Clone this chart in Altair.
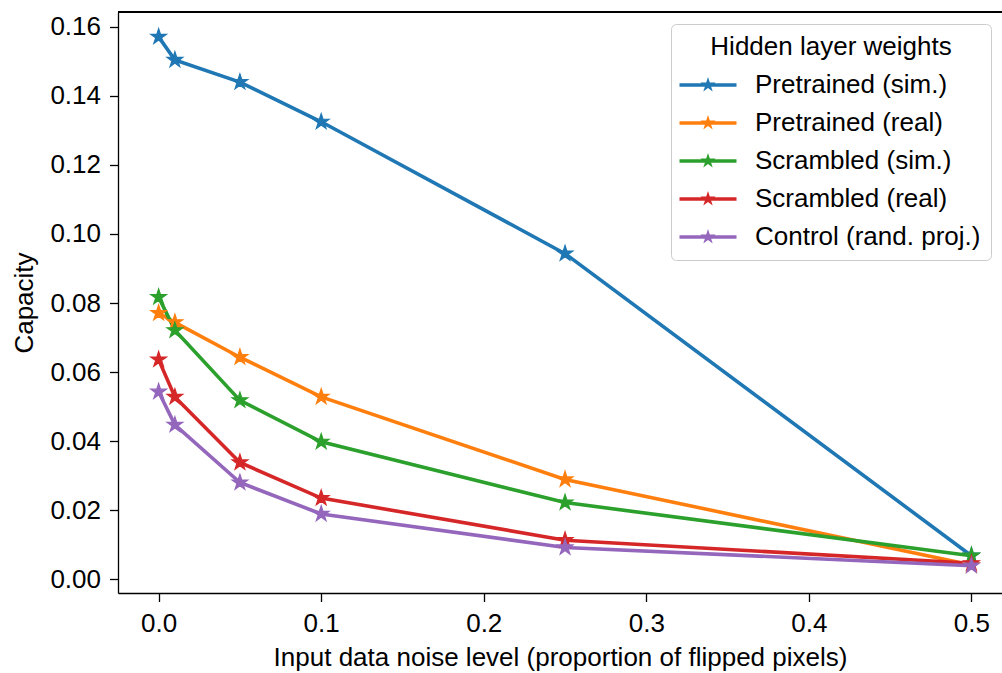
import altair as alt
import pandas as pd

noise = [0.0, 0.01, 0.05, 0.1, 0.25, 0.5]
series_names = [
    "Pretrained (sim.)",
    "Pretrained (real)",
    "Scrambled (sim.)",
    "Scrambled (real)",
    "Control (rand. proj.)",
]
pretrained_sim = [0.1571, 0.1504, 0.1440, 0.1325, 0.0943, 0.0068]
pretrained_real = [0.0771, 0.0744, 0.0643, 0.0528, 0.0289, 0.0041]
scrambled_sim = [0.0817, 0.0721, 0.0518, 0.0398, 0.0222, 0.0068]
scrambled_real = [0.0636, 0.0528, 0.0338, 0.0235, 0.0113, 0.0046]
control = [0.0543, 0.0447, 0.0280, 0.0189, 0.0092, 0.0039]
colors = ["#1f77b4", "#ff7f0e", "#2ca02c", "#d62728", "#9467bd"]

x_ticks = [0.0, 0.1, 0.2, 0.3, 0.4, 0.5]
y_ticks = [0.00, 0.02, 0.04, 0.06, 0.08, 0.10, 0.12, 0.14, 0.16]

rows = []
for name, vals in zip(series_names, [pretrained_sim, pretrained_real, scrambled_sim, scrambled_real, control]):
    for xv, yv in zip(noise, vals):
        rows.append({"noise": xv, "capacity": yv, "series": name})
df = pd.DataFrame(rows)

STAR_PTS = [(0, -1), (0.225, -0.309), (0.951, -0.309), (0.363, 0.118), (0.588, 0.809),
            (0, 0.382), (-0.588, 0.809), (-0.363, 0.118), (-0.951, -0.309), (-0.225, -0.309)]


def star_path(k):
    return "M" + " L".join("{:.3f},{:.3f}".format(px * k, py * k) for px, py in STAR_PTS) + " Z"


STAR = star_path(1.0)
# legend symbol: a filled thin bar (the line) plus a filled star
LEGEND_SYMBOL = "M-2.85,-0.17 L2.85,-0.17 L2.85,0.17 L-2.85,0.17 Z " + star_path(0.8)

FONT = "Liberation Sans"
FS = 26
W, H = 884, 581

color_scale = alt.Scale(domain=series_names, range=colors)

x_enc = alt.X("noise:Q", scale=alt.Scale(domain=[-0.025, 0.5188], nice=False, zero=False),
              axis=alt.Axis(values=x_ticks, format=".1f", title="Input data noise level (proportion of flipped pixels)",
                            grid=False, domain=True, domainColor="black", domainWidth=1.3,
                            tickSize=8.5, tickWidth=1.3, tickColor="black",
                            labelFont=FONT, labelFontSize=FS, labelColor="black", labelPadding=9,
                            titleFont=FONT, titleFontSize=FS, titleFontWeight="normal", titleColor="black",
                            titlePadding=8, labelFlush=False))
y_enc = alt.Y("capacity:Q", scale=alt.Scale(domain=[-0.004, 0.1643], nice=False, zero=False),
              axis=alt.Axis(values=y_ticks, format=".2f", title="Capacity",
                            grid=False, domain=True, domainColor="black", domainWidth=1.3,
                            tickSize=8.5, tickWidth=1.3, tickColor="black",
                            labelFont=FONT, labelFontSize=FS, labelColor="black", labelPadding=9,
                            titleFont=FONT, titleFontSize=FS, titleFontWeight="normal", titleColor="black",
                            titlePadding=12, labelFlush=False))

legend = alt.Legend(
    title="Hidden layer weights", orient="none", legendX=553, legendY=12,
    titleFont=FONT, titleFontSize=FS, titleFontWeight="normal", titleColor="black",
    titleAnchor="middle", titleAlign="center", titlePadding=12, titleLimit=500,
    labelFont=FONT, labelFontSize=FS, labelColor="black", labelLimit=500,
    symbolType=LEGEND_SYMBOL, symbolSize=400, symbolStrokeWidth=0, symbolOpacity=1,
    symbolOffset=14, labelOffset=34, rowPadding=12,
    padding=10, strokeColor="#cccccc", fillColor="white", cornerRadius=5,
)

color_enc = alt.Color("series:N", scale=color_scale, legend=legend, sort=series_names)

lines = alt.Chart(df).mark_line(strokeWidth=3.6).encode(
    x=x_enc, y=y_enc, color=color_enc,
)
points = alt.Chart(df).mark_point(shape=STAR, size=270, filled=True, opacity=1, strokeWidth=1.2).encode(
    x=x_enc, y=y_enc, color=color_enc,
    stroke=alt.Stroke("series:N", scale=color_scale, legend=None),
)

top_rule = alt.Chart(df).mark_rule(color="black", strokeWidth=1.3).encode(
    x=alt.value(0), x2=alt.value(W + 20), y=alt.value(0)
)

chart = alt.layer(lines, points, top_rule).properties(
    width=W, height=H,
    padding={"left": 118, "top": 12, "right": 0, "bottom": 80},
    autosize=alt.AutoSizeParams(type="none"),
).configure_view(stroke=None).configure(background="white")

chart.save("out.html", embed_options={"renderer": "svg", "actions": False})
